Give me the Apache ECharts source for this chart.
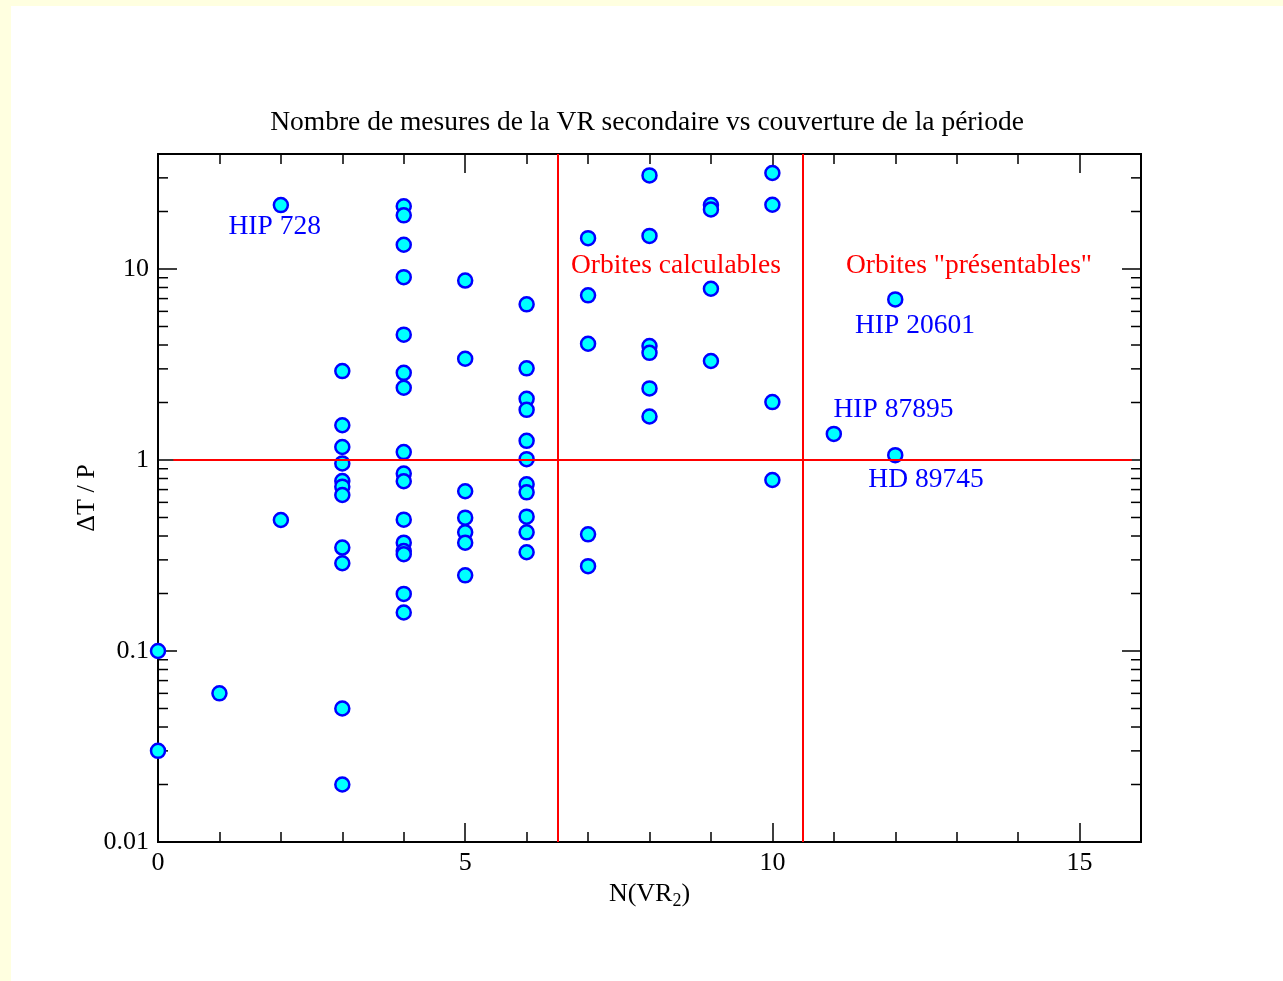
<!DOCTYPE html>
<html>
<head>
<meta charset="utf-8">
<script src="https://cdn.jsdelivr.net/npm/echarts@6/dist/echarts.min.js"></script>
<style>
  html, body { margin: 0; padding: 0; background: #ffffe0; }
  #chart { position: absolute; left: 11px; top: 6px; width: 1272px; height: 975px; background: #fff; }
</style>
</head>
<body>
<div id="chart"></div>
<script>
// N(VR2) et deltaT/P, point par point
var nVR = [
  0, 0,
  1,
  2, 2,
  3, 3, 3, 3, 3, 3, 3, 3, 3, 3, 3,
  4, 4, 4, 4, 4, 4, 4, 4, 4, 4, 4, 4, 4, 4, 4, 4,
  5, 5, 5, 5, 5, 5, 5,
  6, 6, 6, 6, 6, 6, 6, 6, 6, 6, 6,
  7, 7, 7, 7, 7,
  8, 8, 8, 8, 8, 8,
  9, 9, 9, 9,
  10, 10, 10, 10,
  11,
  12, 12
];
var dTP = [
  0.1, 0.03,
  0.06,
  21.6, 0.485,
  2.92, 1.52, 1.17, 0.96, 0.776, 0.725, 0.656, 0.348, 0.288, 0.05, 0.02,
  21.3, 19.1, 13.4, 9.06, 4.53, 2.86, 2.39, 1.10, 0.85, 0.774, 0.487, 0.369, 0.334, 0.321, 0.199, 0.159,
  8.7, 3.39, 0.686, 0.499, 0.418, 0.369, 0.249,
  6.53, 3.02, 2.09, 1.83, 1.26, 1.01, 0.746, 0.677, 0.505, 0.418, 0.329,
  14.5, 7.28, 4.06, 0.408, 0.278,
  30.9, 14.9, 3.95, 3.64, 2.37, 1.69,
  21.6, 20.5, 7.88, 3.3,
  31.8, 21.7, 2.01, 0.786,
  1.37,
  6.93, 1.06
];

// annotations (texte, x, y en unites des axes)
var annText = ['HIP 728', 'Orbites calculables', 'Orbites "présentables"', 'HIP 20601', 'HIP 87895', 'HD 89745'];
var annX = [1.9, 8.43, 13.2, 12.32, 11.97, 12.5];
var annY = [16.6, 10.4, 10.4, 5.03, 1.83, 0.786];
var annColor = ['#0000ff', '#ff0000', '#ff0000', '#0000ff', '#0000ff', '#0000ff'];

// lignes de separation
var vLines = [6.5, 10.5];
var hLine = { y: 1, from: 0.25, to: 15.85 };

// graduations
var xMin = 0, xMax = 16;
var yMin = 0.01, yMax = 40;
var yMinorTicks = [
  0.02, 0.03, 0.04, 0.05, 0.06, 0.07, 0.08, 0.09,
  0.2, 0.3, 0.4, 0.5, 0.6, 0.7, 0.8, 0.9,
  2, 3, 4, 5, 6, 7, 8, 9,
  20, 30
];

var FONT = "'Liberation Serif', 'Times New Roman', serif";

var chart = echarts.init(document.getElementById('chart'));

function xAxisDef (pos, interval, tickLen, showLabel) {
  return {
    type: 'value',
    position: pos,
    min: xMin,
    max: xMax,
    interval: interval,
    axisLine: { show: true, onZero: false, lineStyle: { color: '#000', width: 2 } },
    axisTick: { show: true, inside: true, length: tickLen, lineStyle: { color: '#000', width: 1.5 } },
    axisLabel: {
      show: showLabel,
      margin: 8,
      color: '#000',
      fontFamily: FONT,
      fontSize: 26,
      formatter: function (v) { return v % 5 === 0 ? String(v) : ''; }
    },
    splitLine: { show: false }
  };
}

function yAxisDef (pos, showLabel) {
  return {
    type: 'log',
    logBase: 10,
    position: pos,
    min: yMin,
    max: yMax,
    axisLine: { show: true, onZero: false, lineStyle: { color: '#000', width: 2 } },
    axisTick: { show: true, inside: true, length: 19, lineStyle: { color: '#000', width: 1.5 } },
    axisLabel: {
      show: showLabel,
      margin: 9,
      color: '#000',
      fontFamily: FONT,
      fontSize: 26,
      formatter: function (v) {
        var l = Math.log10(v);
        return Math.abs(l - Math.round(l)) < 1e-6 ? String(v) : '';
      }
    },
    splitLine: { show: false }
  };
}

var xBottom = xAxisDef('bottom', 5, 19, true);
xBottom.name = '{a|N(VR}{s|2}{a|)}';
xBottom.nameLocation = 'middle';
xBottom.nameGap = 33;
xBottom.nameTextStyle = {
  rich: {
    a: { fontFamily: FONT, fontSize: 26, color: '#000' },
    s: { fontFamily: FONT, fontSize: 18, color: '#000', padding: [14, 0, 0, 0] }
  }
};

var yLeft = yAxisDef('left', true);
yLeft.name = 'ΔT / P';
yLeft.nameLocation = 'middle';
yLeft.nameGap = 58;
yLeft.nameMoveOverlap = false;
yLeft.nameTextStyle = { fontFamily: FONT, fontSize: 26, color: '#000' };

var option = {
  animation: false,
  title: {
    text: 'Nombre de mesures de la VR secondaire vs couverture de la période',
    left: 'center',
    top: 98,
    textStyle: { fontFamily: FONT, fontSize: 27.5, fontWeight: 'normal', color: '#000' }
  },
  grid: { left: 147, top: 148, right: 142, bottom: 139 },
  xAxis: [
    xBottom,
    xAxisDef('bottom', 1, 10, false),
    xAxisDef('top', 5, 19, false),
    xAxisDef('top', 1, 10, false)
  ],
  yAxis: [
    yLeft,
    yAxisDef('right', false)
  ],
  series: [
    {
      // petites graduations de l'axe log (gauche et droite)
      type: 'custom',
      xAxisIndex: 0,
      yAxisIndex: 0,
      silent: true,
      clip: false,
      data: yMinorTicks.map(function (v) { return [xMin, v]; }),
      encode: { x: 0, y: 1 },
      renderItem: function (params, api) {
        var v = api.value(1);
        var p1 = api.coord([xMin, v]);
        var p2 = api.coord([xMax, v]);
        var st = { stroke: '#000', lineWidth: 1.5 };
        return {
          type: 'group',
          children: [
            { type: 'line', shape: { x1: p1[0], y1: p1[1], x2: p1[0] + 10, y2: p1[1] }, style: st },
            { type: 'line', shape: { x1: p2[0] - 10, y1: p2[1], x2: p2[0], y2: p2[1] }, style: st }
          ]
        };
      }
    },
    {
      type: 'scatter',
      xAxisIndex: 0,
      yAxisIndex: 0,
      clip: false,
      symbol: 'circle',
      symbolSize: 14,
      z: 3,
      itemStyle: { color: '#00ffff', borderColor: '#0000ff', borderWidth: 2.5, opacity: 1 },
      data: nVR.map(function (x, i) { return [x, dTP[i]]; })
    },
    {
      // lignes rouges
      type: 'scatter',
      xAxisIndex: 0,
      yAxisIndex: 0,
      data: [],
      z: 4,
      markLine: {
        silent: true,
        symbol: 'none',
        animation: false,
        label: { show: false },
        lineStyle: { color: '#ff0000', width: 2, type: 'solid', opacity: 1 },
        emphasis: { disabled: true },
        data: vLines.map(function (x) {
          return [{ coord: [x, yMin] }, { coord: [x, yMax] }];
        }).concat([[{ coord: [hLine.from, hLine.y] }, { coord: [hLine.to, hLine.y] }]])
      }
    },
    {
      // textes
      type: 'scatter',
      xAxisIndex: 0,
      yAxisIndex: 0,
      symbolSize: 0,
      silent: true,
      clip: false,
      z: 5,
      itemStyle: { opacity: 1 },
      data: annText.map(function (t, i) {
        return {
          value: [annX[i], annY[i]],
          label: {
            show: true,
            position: 'inside',
            formatter: t,
            color: annColor[i],
            opacity: 1,
            fontFamily: FONT,
            fontSize: 27.5
          }
        };
      })
    }
  ]
};

chart.setOption(option);
</script>
</body>
</html>
